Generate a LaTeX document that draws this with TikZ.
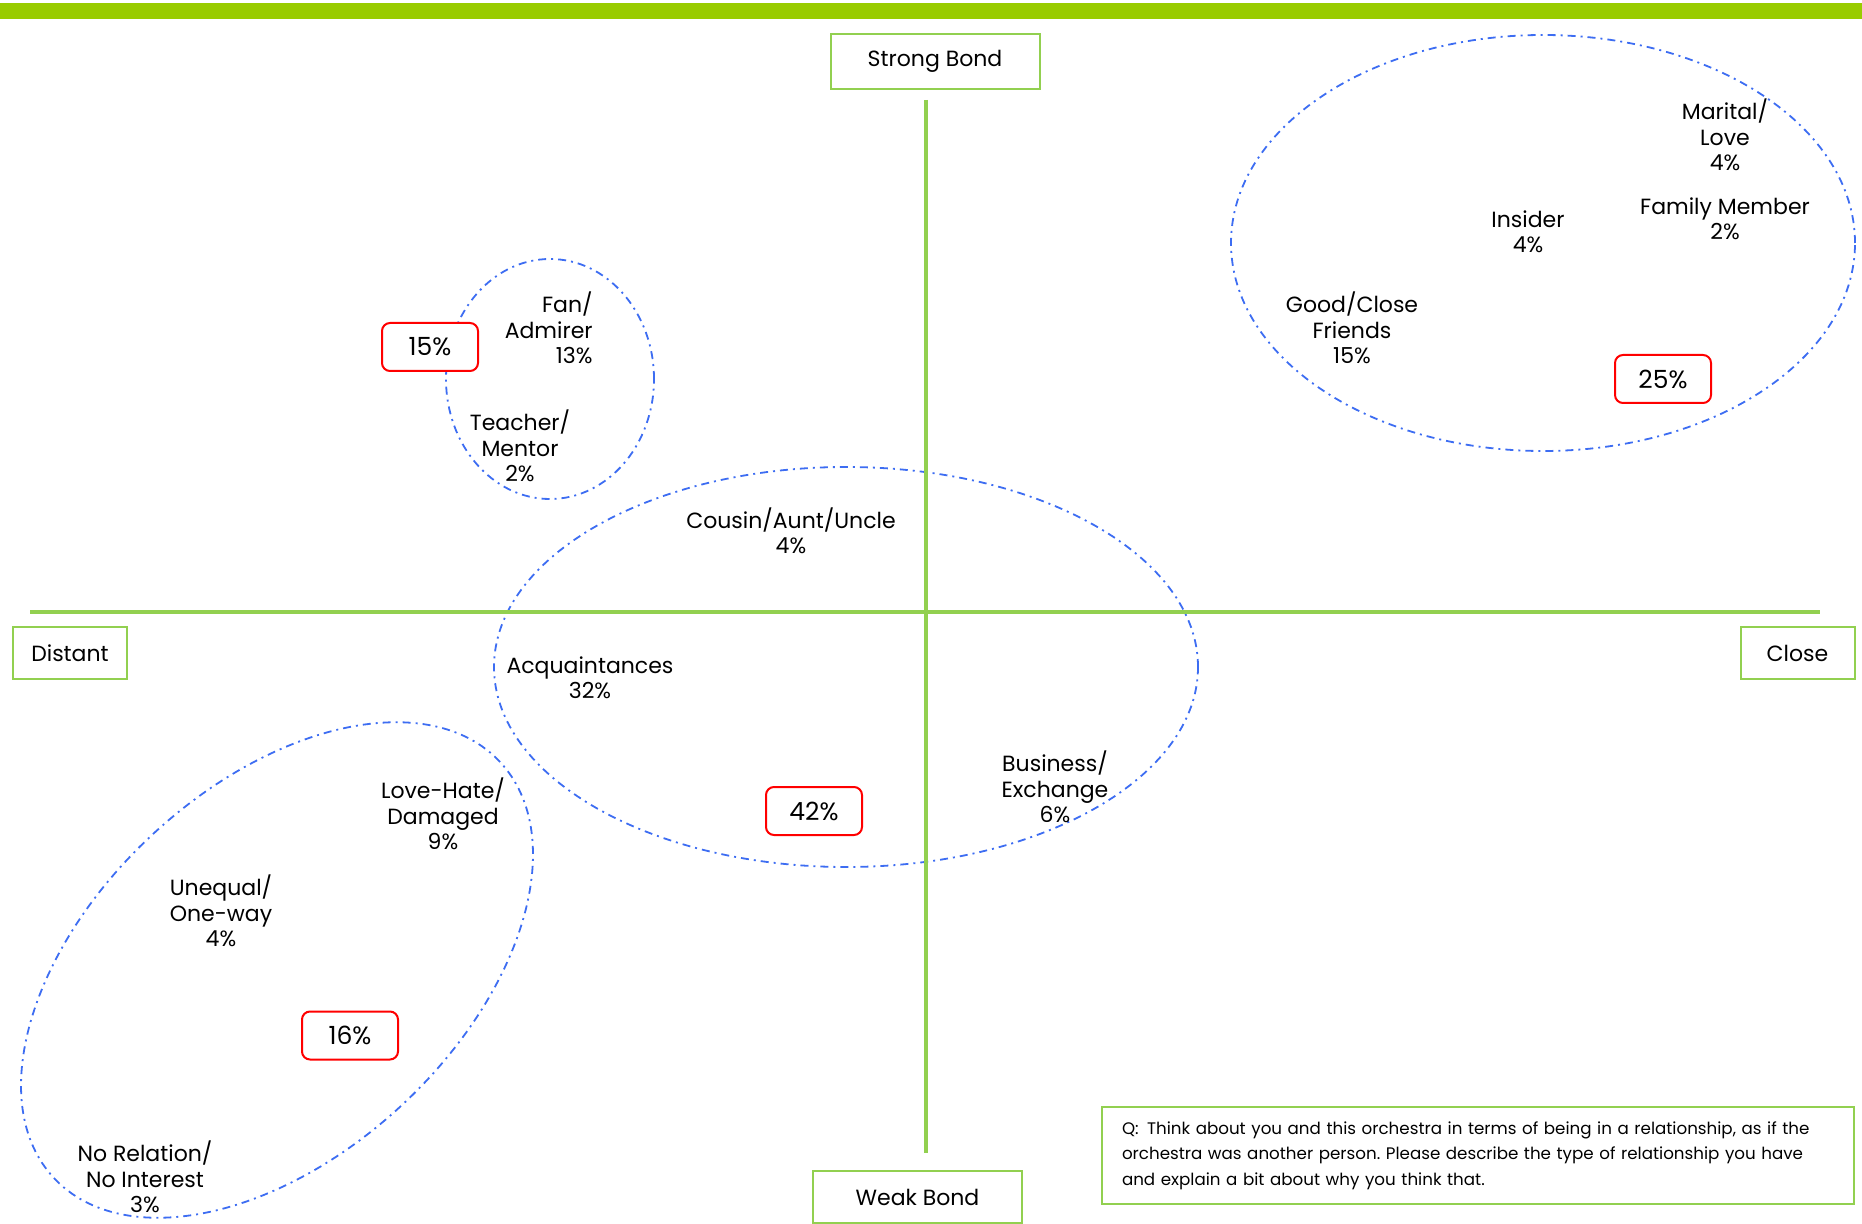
\documentclass[tikz,border=0pt]{standalone}
\usepackage{fontspec}
\setmainfont{Poppins}
\usepackage{tikz}
\frenchspacing
\definecolor{my_bargreen}{HTML}{99CC00}
\definecolor{my_green}{HTML}{92D050}
\definecolor{my_blue}{HTML}{3D6DF2}
\definecolor{my_red}{HTML}{FF0000}
\newcommand{\lblfont}{\fontsize{11}{12.75}\selectfont}
\newcommand{\pctfont}{\fontsize{12.5}{13}\selectfont}
\newcommand{\qfont}{\fontsize{8.35}{12.7}\selectfont}

\begin{document}
\begin{tikzpicture}[
    x=0.5pt, y=-0.5pt,
    axisbox/.style={draw=my_green, line width=1pt, fill=white, inner sep=0pt, font=\lblfont},
    pctbox/.style={draw=my_red, line width=1pt, rounded corners=4pt, fill=white,
        minimum width=48pt, minimum height=24pt, inner sep=0pt, font=\pctfont},
    group/.style={draw=my_blue, line width=0.9pt, dash pattern=on 4pt off 2.5pt on 1pt off 2.5pt},
    axis/.style={draw=my_green, line width=1.6pt},
    lbl/.style={align=center, inner sep=0pt, font=\lblfont}
]
\useasboundingbox (0,0) rectangle (1862,1224);

% ----------------------------------------------------------
% Kopfleiste
% ----------------------------------------------------------
\fill[my_bargreen] (0,3) rectangle (1862,19);

% ----------------------------------------------------------
% Gruppen (strichpunktierte Ellipsen)
% ----------------------------------------------------------
\draw[group] (1543,243) ellipse [x radius=156pt, y radius=104pt];   % eng / stark
\draw[group] (550,379)  ellipse [x radius=52pt,  y radius=60pt];    % Fan / Lehrer
\draw[group] (846,667)  ellipse [x radius=176pt, y radius=100pt];   % Mitte
\draw[group] (277,970)  ellipse [x radius=152.5pt, y radius=92pt, rotate=43]; % distanziert / schwach

% ----------------------------------------------------------
% Achsen mit Beschriftung
% ----------------------------------------------------------
\node[axisbox, minimum width=104.5pt, minimum height=27.5pt] (strong) at (935,61.5)   {Strong Bond};
\node[axisbox, minimum width=104.5pt, minimum height=26pt]   (weak)   at (917.5,1197) {Weak Bond};
\node[axisbox, minimum width=57pt,   minimum height=26pt]    (distant) at (70,653)    {Distant};
\node[axisbox, minimum width=57pt,   minimum height=26pt]    (close)  at (1797.5,653) {Close};

\coordinate (vtop) at (926,100);
\coordinate (vbot) at (926,1153);
\coordinate (hleft) at (30,612);
\coordinate (hright) at (1820,612);
\draw[axis] (vtop) -- (vbot);
\draw[axis] (hleft) -- (hright);

% ----------------------------------------------------------
% Beziehungstypen
% ----------------------------------------------------------
\node[lbl, align=right, anchor=east] (fan) at (593,328) {Fan/\\Admirer\\13\%};
\node[lbl] (teacher)  at (520,446)  {Teacher/\\Mentor\\2\%};
\node[lbl] (cousin)   at (791,531)  {Cousin/Aunt/Uncle\\4\%};
\node[lbl] (acquaint) at (590,678)  {Acquaintances\\32\%};
\node[lbl] (business) at (1055,787) {Business/\\Exchange\\6\%};
\node[lbl] (lovehate) at (443,814)  {Love-Hate/\\Damaged\\9\%};
\node[lbl] (unequal)  at (221,911)  {Unequal/\\One-way\\4\%};
\node[lbl] (norel)    at (145,1177) {No Relation/\\No Interest\\3\%};
\node[lbl] (friends)  at (1352,328) {Good/Close\\Friends\\15\%};
\node[lbl] (insider)  at (1528,232) {Insider\\4\%};
\node[lbl] (family)   at (1725,219) {Family Member\\2\%};
\node[lbl] (marital)  at (1725,135) {Marital/\\Love\\4\%};

% Gruppensummen
\foreach \nm/\px/\py/\pc in {a/430/347/15, b/1663/379/25, c/814/811/42, d/350/1035.5/16} {
    \node[pctbox] (pct\nm) at (\px,\py) {\pc\%};
}

% ----------------------------------------------------------
% Frage
% ----------------------------------------------------------
\node[axisbox, font=\qfont, align=left, text width=356pt, inner xsep=10pt, minimum height=48.5pt]
    (question) at (1478,1155.5)
    {Q:\enspace Think about you and this orchestra in terms of being in a relationship, as if the\\
     orchestra was another person. Please describe the type of relationship you have\\
     and explain a bit about why you think that.};

\end{tikzpicture}
\end{document}
